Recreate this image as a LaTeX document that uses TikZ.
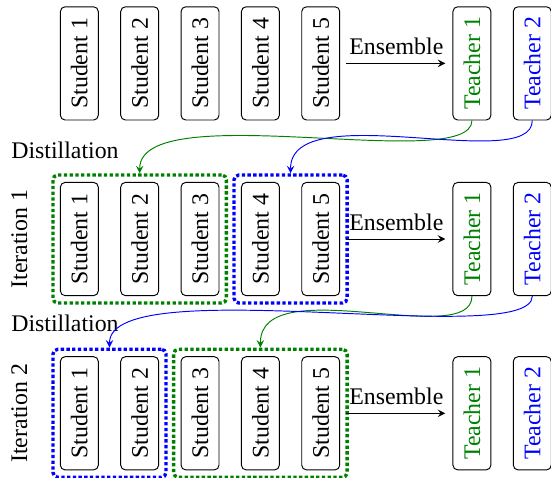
\documentclass[tikz,border=0pt]{standalone}
\usepackage{fontspec}
\setmainfont{Liberation Serif}
\usepackage{graphicx}
\usetikzlibrary{fit}

\tikzset{
	box/.style={draw, rounded corners=2pt, minimum width=0.56cm, minimum height=1.67cm, inner sep=0pt},
	grp/.style={line width=1.4pt, densely dotted, rounded corners=2pt, inner sep=2.9pt},
	lbl/.style={inner sep=0pt},
}
\newcommand{\vlabel}[1]{\rotatebox{90}{#1}}

\begin{document}
\begin{tikzpicture}[>=stealth]
		%%%%% START %%%%%
		\useasboundingbox (0, 0) rectangle (8.126, 7.035);
		
		% row 1
		\node[box] (s11) at (1.17, 6.10) {\vlabel{Student 1}};
		\node[box] (s12) at (2.06, 6.10) {\vlabel{Student 2}};
		\node[box] (s13) at (2.95, 6.10) {\vlabel{Student 3}};
		\node[box] (s14) at (3.84, 6.10) {\vlabel{Student 4}};
		\node[box] (s15) at (4.73, 6.10) {\vlabel{Student 5}};
		\node[box, text=green!50!black] (t11) at (6.96, 6.10) {\vlabel{Teacher 1}};
		\node[box, text=blue] (t12) at (7.85, 6.10) {\vlabel{Teacher 2}};
		\draw[->, shorten <=2.5pt, shorten >=3pt] (s15) -- node[above] (ens1) {Ensemble} (t11);
		
		\node[lbl, anchor=base west] (dist1) at (0.16, 4.70) {Distillation};
		
		% row 2
		\node[lbl, rotate=90, anchor=base] (iter1) at (0.40, 3.51) {Iteration 1};
		\node[box] (s21) at (1.17, 3.51) {\vlabel{Student 1}};
		\node[box] (s22) at (2.06, 3.51) {\vlabel{Student 2}};
		\node[box] (s23) at (2.95, 3.51) {\vlabel{Student 3}};
		\node[box] (s24) at (3.84, 3.51) {\vlabel{Student 4}};
		\node[box] (s25) at (4.73, 3.51) {\vlabel{Student 5}};
		\node[box, text=green!50!black] (t21) at (6.96, 3.51) {\vlabel{Teacher 1}};
		\node[box, text=blue] (t22) at (7.85, 3.51) {\vlabel{Teacher 2}};
		\node[grp, draw=green!50!black, fit=(s21)(s23)] (g21) {};
		\node[grp, draw=blue, fit=(s24)(s25)] (g22) {};
		\draw[->, shorten <=2.5pt, shorten >=3pt] (s25) -- node[above] (ens2) {Ensemble} (t21);
		
		\draw[->, green!50!black] (t11.south) .. controls +(0, -0.8) and +(0, 1.15) .. (g21.north);
		\draw[->, blue] (t12.south) .. controls +(0, -0.8) and +(0, 1.15) .. (g22.north);
		
		\node[lbl, anchor=base west] (dist2) at (0.16, 2.14) {Distillation};
		
		% row 3
		\node[lbl, rotate=90, anchor=base] (iter2) at (0.40, 0.94) {Iteration 2};
		\node[box] (s31) at (1.17, 0.94) {\vlabel{Student 1}};
		\node[box] (s32) at (2.06, 0.94) {\vlabel{Student 2}};
		\node[box] (s33) at (2.95, 0.94) {\vlabel{Student 3}};
		\node[box] (s34) at (3.84, 0.94) {\vlabel{Student 4}};
		\node[box] (s35) at (4.73, 0.94) {\vlabel{Student 5}};
		\node[box, text=green!50!black] (t31) at (6.96, 0.94) {\vlabel{Teacher 1}};
		\node[box, text=blue] (t32) at (7.85, 0.94) {\vlabel{Teacher 2}};
		\node[grp, draw=blue, fit=(s31)(s32)] (g31) {};
		\node[grp, draw=green!50!black, fit=(s33)(s35)] (g32) {};
		\draw[->, shorten <=2.5pt, shorten >=3pt] (s35) -- node[above] (ens3) {Ensemble} (t31);
		
		\draw[->, green!50!black] (t21.south) .. controls +(0, -0.8) and +(0, 1.15) .. (g32.north);
		\draw[->, blue] (t22.south) .. controls +(0, -0.8) and +(0, 1.15) .. (g31.north);
		
		%%%%% END %%%%%
\end{tikzpicture}
\end{document}
